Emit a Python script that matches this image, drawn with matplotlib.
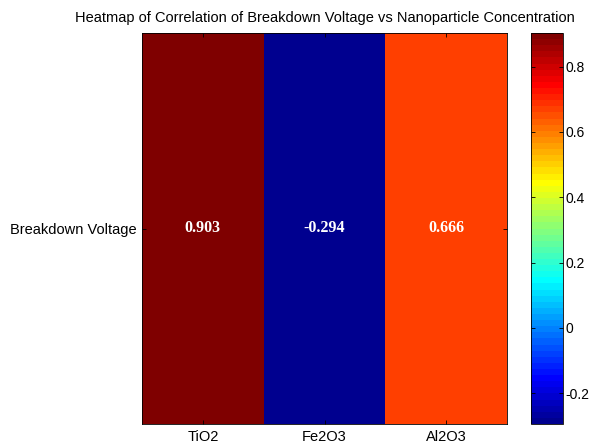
import numpy as np
import matplotlib
matplotlib.use('Agg')
import matplotlib.pyplot as plt
from matplotlib.colors import ListedColormap

materials = ['TiO2', 'Fe2O3', 'Al2O3']
rows = ['Breakdown Voltage']
corr = [0.903, -0.294, 0.666]


def matlab_jet(n=64):
    # same construction as MATLAB's jet(n)
    m = int(np.ceil(n / 4))
    u = np.concatenate([np.arange(1, m + 1) / m, np.ones(m - 1), np.arange(m, 0, -1) / m])
    g = int(np.ceil(m / 2)) - (1 if n % 4 == 1 else 0) + np.arange(1, len(u) + 1)
    r = g + m
    b = g - m
    J = np.zeros((n, 3))
    for ch, idx in enumerate([r, g, b]):
        ok = (idx >= 1) & (idx <= n)
        J[idx[ok] - 1, ch] = u[ok]
    return ListedColormap(J)


plt.rcParams['font.family'] = ['Liberation Sans', 'DejaVu Sans']

fig = plt.figure(figsize=(5.89, 4.43), dpi=100)
ax = fig.add_axes([142/589, 1 - 424/443, 365/589, 391/443])
cax = fig.add_axes([531/589, 1 - 424/443, 32/589, 391/443])

data = np.array([corr])
im = ax.imshow(data, cmap=matlab_jet(), aspect='auto', vmin=min(corr), vmax=max(corr))

ax.set_xticks(range(len(materials)))
ax.set_xticklabels(materials, fontsize=10.5)
ax.set_yticks(range(len(rows)))
ax.set_yticklabels(rows, fontsize=10.5)
ax.tick_params(direction='in', length=3, width=0.6, top=True, right=True, pad=4)
ax.set_title('Heatmap of Correlation of Breakdown Voltage vs Nanoparticle Concentration',
             fontsize=10.5, pad=8)

for j, v in enumerate(corr):
    ax.text(j, 0, '%.3f' % v, ha='center', va='center', color='white',
            fontsize=11.5, fontweight='bold', family='Liberation Serif')

cb = fig.colorbar(im, cax=cax)
cb.set_ticks([-0.2, 0, 0.2, 0.4, 0.6, 0.8])
cb.set_ticklabels(['-0.2', '0', '0.2', '0.4', '0.6', '0.8'])
cax.tick_params(direction='in', length=3, width=0.6, labelsize=10, left=True, pad=1.5)
cb.outline.set_linewidth(0.6)
for s in ax.spines.values():
    s.set_linewidth(0.6)

fig.savefig('out.png', dpi=100)
